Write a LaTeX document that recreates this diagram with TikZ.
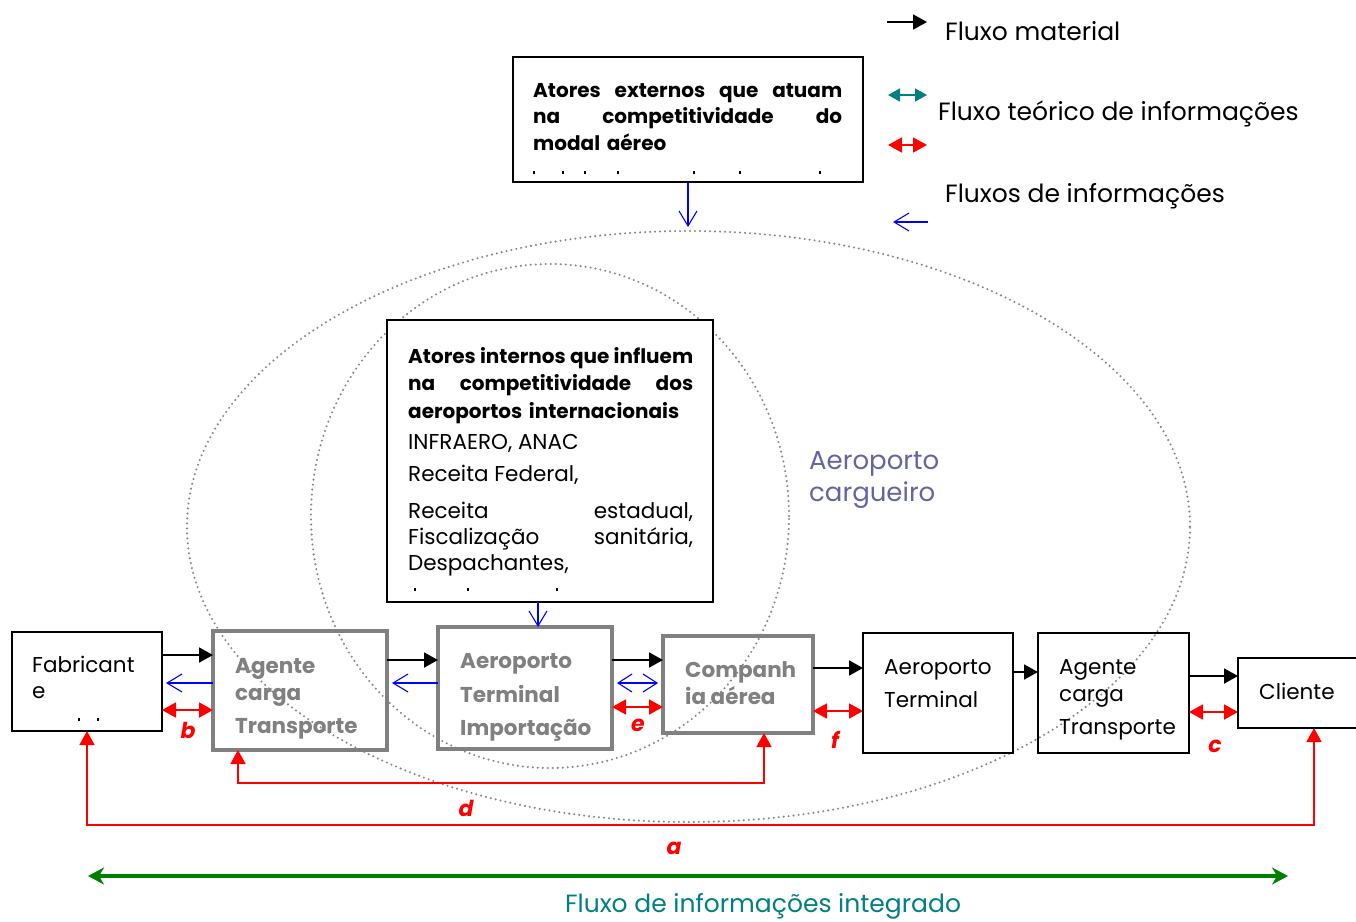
\documentclass[tikz,border=0pt]{standalone}
\usepackage{fontspec}
\setmainfont{Poppins}
\usetikzlibrary{arrows.meta}
\definecolor{boxgray}{RGB}{128,128,128}
\definecolor{infoteal}{RGB}{0,128,128}
\definecolor{intgreen}{RGB}{0,128,0}
\definecolor{hubtext}{RGB}{100,100,160}
\definecolor{ringgray}{RGB}{135,135,135}

\begin{document}
\begin{tikzpicture}[x=1pt,y=-1pt,
  plainbox/.style={draw=black, line width=1.6pt, inner sep=0pt, outer sep=0pt, anchor=north west},
  graybox/.style={draw=boxgray, line width=3.8pt, inner sep=0pt, outer sep=0pt, anchor=north west},
  boxtxt/.style={anchor=base west, inner sep=0pt, font=\fontsize{21.5}{26}\selectfont},
  graytxt/.style={anchor=base west, inner sep=0pt, text=boxgray, font=\fontsize{21.5}{26}\selectfont\bfseries},
  legtxt/.style={anchor=base west, inner sep=0pt, font=\fontsize{25}{30}\selectfont},
  matflow/.style={line width=1.8pt, -{Triangle[length=14pt,width=15pt]}},
  infoflow/.style={blue, line width=1.1pt, -{Straight Barb[length=15pt,width=18pt]}},
  infopair/.style={blue, line width=1.1pt, {Straight Barb[length=14pt,width=18pt]}-{Straight Barb[length=14pt,width=18pt]}},
  pairflow/.style={red, line width=1.8pt, {Triangle[length=14pt,width=15pt]}-{Triangle[length=14pt,width=15pt]}},
  loopflow/.style={red, line width=1.6pt, {Triangle[length=14pt,width=15pt]}-{Triangle[length=14pt,width=15pt]}},
  ring/.style={ringgray, line width=2.3pt, line cap=round, dash pattern=on 0pt off 5pt},
  tag/.style={text=red, inner sep=0pt, font=\fontsize{22}{22}\selectfont\bfseries\itshape},
  tick/.style={fill=black, inner sep=0pt, minimum width=2pt, minimum height=3pt},
]
\clip (0,0) rectangle (1356,921);
\fill[white] (0,0) rectangle (1356,921);

% ---------- legend ----------
\coordinate (lgA1) at (887,22);  \coordinate (lgA2) at (927,22);
\coordinate (lgB1) at (888,95);  \coordinate (lgB2) at (927,95);
\coordinate (lgC1) at (888,145); \coordinate (lgC2) at (927,145);
\coordinate (lgD1) at (928,222); \coordinate (lgD2) at (893,222);
\draw[matflow] (lgA1) -- (lgA2);
\draw[infoteal, line width=1.8pt, {Triangle[length=12pt,width=13pt]}-{Triangle[length=12pt,width=13pt]}] (lgB1) -- (lgB2);
\draw[pairflow] (lgC1) -- (lgC2);
\draw[infoflow] (lgD1) -- (lgD2);
\node[legtxt] (lgT1) at (945,40) {Fluxo material};
\node[legtxt] (lgT2) at (938,120) {Fluxo teórico de informações};
\node[legtxt] (lgT3) at (945,202) {Fluxos de informações};

% ---------- airport rings ----------
\draw[ring] (688.5,526.5) ellipse [x radius=501.5pt, y radius=295.5pt];
\draw[ring] (550,516) ellipse [x radius=239pt, y radius=252pt];
\node[anchor=base west, inner sep=0pt, text=hubtext, font=\fontsize{26}{33}\selectfont] (hub1) at (809,469) {Aeroporto};
\node[anchor=base west, inner sep=0pt, text=hubtext, font=\fontsize{26}{33}\selectfont] (hub2) at (809,501) {cargueiro};

% ---------- external actors ----------
\node[plainbox, minimum width=350pt, minimum height=125pt] (ext) at (513,57) {};
\node[anchor=base west, inner sep=0pt, text width=309pt, align=left,
      font=\fontsize{20}{26.5}\selectfont\bfseries] (extT) at (533,97)
  {Atores\hfill externos\hfill que\hfill atuam\\
   na\hfill competitividade\hfill do\\
   modal aéreo};
\foreach \x in {534,563,585,618,694,740,820} \node[tick] at (\x,172) {};
\coordinate (extTip) at (688,227);
\draw[infoflow] (ext.south) -- (extTip);

% ---------- internal actors ----------
\node[plainbox, fill=white, minimum width=326pt, minimum height=282pt] (int) at (387,320) {};
\node[anchor=base west, inner sep=0pt, text width=285pt, align=left,
      font=\fontsize{20}{27.5}\selectfont\bfseries] (intT) at (408,363)
  {Atores\hfill internos\hfill que\hfill influem\\
   na\hfill competitividade\hfill dos\\
   aeroportos internacionais};
\node[boxtxt] (intL1) at (408,449) {INFRAERO, ANAC};
\node[boxtxt] (intL2) at (408,481) {Receita Federal,};
\node[boxtxt, text width=285pt, align=left] (intL3) at (408,518)
  {Receita\hfill estadual,\\ Fiscalização\hfill sanitária,\\ Despachantes,};
\foreach \x in {415,468,557} \node[tick] at (\x,589) {};

% ---------- chain of actors ----------
\node[plainbox, minimum width=150pt, minimum height=99pt] (fab) at (12,632) {};
\node[graybox, minimum width=174pt, minimum height=119pt] (ag1) at (213,631) {};
\node[graybox, minimum width=174pt, minimum height=122pt] (ati) at (438,627) {};
\node[graybox, minimum width=150pt, minimum height=97pt] (cia) at (663,636) {};
\node[plainbox, minimum width=150pt, minimum height=120pt] (at) at (863,633) {};
\node[plainbox, minimum width=151pt, minimum height=120pt] (ag2) at (1038,633) {};
\node[plainbox, minimum width=152pt, minimum height=70pt] (cli) at (1238,658) {};

\node[boxtxt] (fabT1) at (32,672) {Fabricant};
\node[boxtxt] (fabT2) at (32,698) {e};
\foreach \x in {79,98} \node[tick] at (\x,719) {};
\node[graytxt] (ag1T1) at (235,673) {Agente};
\node[graytxt] (ag1T2) at (235,700) {carga};
\node[graytxt] (ag1T3) at (235,733) {Transporte};
\node[graytxt] (atiT1) at (460,668) {Aeroporto};
\node[graytxt] (atiT2) at (460,702) {Terminal};
\node[graytxt] (atiT3) at (460,735) {Importação};
\node[graytxt] (ciaT1) at (685,677) {Companh};
\node[graytxt] (ciaT2) at (685,704) {ia aérea};
\node[boxtxt] (atT1) at (884,674) {Aeroporto};
\node[boxtxt] (atT2) at (884,707) {Terminal};
\node[boxtxt] (ag2T1) at (1059,674) {Agente};
\node[boxtxt] (ag2T2) at (1059,701) {carga};
\node[boxtxt] (ag2T3) at (1059,734) {Transporte};
\node[boxtxt] (cliT) at (1259,699) {Cliente};

% material flow
\draw[matflow] (fab.east |- 0,655) -- (ag1.west |- 0,655);
\draw[matflow] (ag1.east |- 0,660) -- (ati.west |- 0,660);
\draw[matflow] (ati.east |- 0,660) -- (cia.west |- 0,660);
\draw[matflow] (cia.east |- 0,668) -- (at.west |- 0,668);
\draw[matflow] (at.east |- 0,672) -- (ag2.west |- 0,672);
\draw[matflow] (ag2.east |- 0,676) -- (cli.west |- 0,676);

% information flow
\draw[infoflow] (ag1.west |- 0,683) -- ([xshift=4pt]fab.east |- 0,683);
\draw[infoflow] (ati.west |- 0,683) -- ([xshift=5pt]ag1.east |- 0,683);
\draw[infopair] ([xshift=5pt]ati.east |- 0,683) -- ([xshift=-5pt]cia.west |- 0,683);
\draw[infoflow] ([xshift=-12pt]int.south) -- ([xshift=-12pt]int.south |- ati.north);

% paired information exchanges
\draw[pairflow] (fab.east |- 0,710) -- (ag1.west |- 0,710);
\draw[pairflow] (ati.east |- 0,707) -- (cia.west |- 0,707);
\draw[pairflow] (cia.east |- 0,711) -- (at.west |- 0,711);
\draw[pairflow] (ag2.east |- 0,712) -- (cli.west |- 0,712);
\node[tag] (lb) at (188,730) {b};
\node[tag] (le) at (638,725) {e};
\node[tag] (lf) at (835,740) {f};
\node[tag] (lc) at (1215,746) {c};

% long information loops
\coordinate (dA) at ([xshift=25pt]ag1.south west);
\coordinate (dB) at ([xshift=101pt]cia.south west);
\draw[loopflow] (dA) -- (dA |- 0,783) -- (dB |- 0,783) -- (dB);
\node[tag] (ld) at (466,808) {d};
\draw[loopflow] (fab.south) -- (fab.south |- 0,825) -- (cli.south |- 0,825) -- (cli.south);
\node[tag] (la) at (674,848) {a};

% integrated flow
\coordinate (gL) at (88,876);
\coordinate (gR) at (1288,876);
\draw[intgreen, line width=4.5pt, {Stealth[length=16pt,width=17pt,inset=5pt]}-{Stealth[length=16pt,width=17pt,inset=5pt]}] (gL) -- (gR);
\node[anchor=base, inner sep=0pt, text=infoteal, font=\fontsize{25}{30}\selectfont] (gT) at (763,912) {Fluxo de informações integrado};
\end{tikzpicture}
\end{document}
